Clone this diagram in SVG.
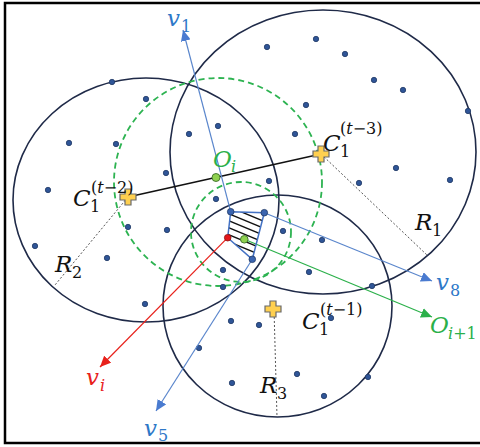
<svg xmlns="http://www.w3.org/2000/svg" width="480" height="447" viewBox="0 0 480 447">
<style>
.frame{fill:none;stroke:#000;stroke-width:2.5}
.circ{fill:none;stroke:#1F2A48;stroke-width:1.6}
.gdash{fill:none;stroke:#2DB351;stroke-width:1.8;stroke-dasharray:6 4}
.dot{fill:#2F5597;stroke:#1F3864;stroke-width:0.8}
.vdot{fill:#3A64B0;stroke:#1F3864;stroke-width:0.8}
.rad{stroke:#555;stroke-width:1;stroke-dasharray:2 2;fill:none}
.vec{stroke:#5A86CC;stroke-width:1.2;fill:none}
.cross{fill:#FFD04F;stroke:#6A6A6A;stroke-width:1.2}
.math{font-family:"DejaVu Serif","Liberation Serif",serif;font-style:italic}
.up{font-style:normal}
.big{font-size:23px}
.sm{font-size:16px}
.blue{fill:#2E78C8}
.red{fill:#E8211B}
.green{fill:#2BB04A}
.black{fill:#111}
</style>
<defs>
<marker id="ab" markerUnits="userSpaceOnUse" markerWidth="12" markerHeight="10" refX="11" refY="5" orient="auto"><path d="M0,0 L11,5 L0,10 z" fill="#4A7BD0"/></marker>
<marker id="ar" markerUnits="userSpaceOnUse" markerWidth="12" markerHeight="10" refX="11" refY="5" orient="auto"><path d="M0,0 L11,5 L0,10 z" fill="#E8211B"/></marker>
<marker id="ag" markerUnits="userSpaceOnUse" markerWidth="12" markerHeight="10" refX="11" refY="5" orient="auto"><path d="M0,0 L11,5 L0,10 z" fill="#2BB04A"/></marker>
<clipPath id="polyclip"><polygon points="230.7,211.7 264.3,212.7 252.3,259.3 227.7,237.7"/></clipPath>
</defs>

<rect class="frame" x="5" y="3" width="490" height="440"/>

<g id="region-R1"><ellipse class="circ" cx="323" cy="152" rx="153" ry="142"/></g>
<g id="region-R2"><ellipse class="circ" cx="146" cy="200" rx="133" ry="122"/></g>
<g id="region-R3"><ellipse class="circ" cx="277.5" cy="306" rx="114.5" ry="111"/></g>
<g id="region-Oi"><circle class="gdash" cx="218" cy="182" r="104"/></g>
<g id="region-Oi1"><circle class="gdash" cx="241" cy="232" r="50"/></g>

<g id="points">
<circle class="dot" cx="112" cy="82" r="2.7"/>
<circle class="dot" cx="146" cy="99" r="2.7"/>
<circle class="dot" cx="69" cy="143" r="2.7"/>
<circle class="dot" cx="116" cy="144" r="2.7"/>
<circle class="dot" cx="189" cy="134" r="2.7"/>
<circle class="dot" cx="218" cy="126" r="2.7"/>
<circle class="dot" cx="166" cy="173" r="2.7"/>
<circle class="dot" cx="48" cy="190" r="2.7"/>
<circle class="dot" cx="216" cy="199" r="2.7"/>
<circle class="dot" cx="267" cy="47" r="2.7"/>
<circle class="dot" cx="316" cy="39" r="2.7"/>
<circle class="dot" cx="345" cy="54" r="2.7"/>
<circle class="dot" cx="374" cy="80" r="2.7"/>
<circle class="dot" cx="403" cy="90" r="2.7"/>
<circle class="dot" cx="468" cy="111" r="2.7"/>
<circle class="dot" cx="306" cy="105" r="2.7"/>
<circle class="dot" cx="295" cy="134" r="2.7"/>
<circle class="dot" cx="396" cy="168" r="2.7"/>
<circle class="dot" cx="359" cy="183" r="2.7"/>
<circle class="dot" cx="450" cy="180" r="2.7"/>
<circle class="dot" cx="269" cy="181" r="2.7"/>
<circle class="dot" cx="128" cy="227" r="2.7"/>
<circle class="dot" cx="167" cy="230" r="2.7"/>
<circle class="dot" cx="35" cy="246" r="2.7"/>
<circle class="dot" cx="107" cy="258" r="2.7"/>
<circle class="dot" cx="223" cy="270" r="2.7"/>
<circle class="dot" cx="223" cy="287" r="2.7"/>
<circle class="dot" cx="145" cy="304" r="2.7"/>
<circle class="dot" cx="231" cy="321" r="2.7"/>
<circle class="dot" cx="199" cy="348" r="2.7"/>
<circle class="dot" cx="232" cy="383" r="2.7"/>
<circle class="dot" cx="283" cy="231" r="2.7"/>
<circle class="dot" cx="322" cy="240" r="2.7"/>
<circle class="dot" cx="309" cy="272" r="2.7"/>
<circle class="dot" cx="372" cy="286" r="2.7"/>
<circle class="dot" cx="259" cy="325" r="2.7"/>
<circle class="dot" cx="331" cy="318" r="2.7"/>
<circle class="dot" cx="297" cy="374" r="2.7"/>
<circle class="dot" cx="368" cy="377" r="2.7"/>
<circle class="dot" cx="324" cy="396" r="2.7"/>
</g>

<g id="connectors">
<line x1="128" y1="197" x2="321" y2="154" stroke="#111" stroke-width="1.5"/>
<line class="rad" x1="321" y1="154" x2="428" y2="256"/>
<line class="rad" x1="128" y1="197" x2="55" y2="285"/>
<line class="rad" x1="274" y1="309" x2="277" y2="417"/>
<line class="vec" x1="230.7" y1="211.7" x2="183" y2="30" marker-end="url(#ab)"/>
<line class="vec" x1="264.3" y1="212.7" x2="432" y2="281" marker-end="url(#ab)"/>
<line class="vec" x1="252.3" y1="259.3" x2="156" y2="411" marker-end="url(#ab)"/>
<line x1="227.7" y1="237.7" x2="100" y2="367" stroke="#E8211B" stroke-width="1.2" marker-end="url(#ar)"/>
<line x1="244.3" y1="239.3" x2="432" y2="317" stroke="#2BB04A" stroke-width="1.2" marker-end="url(#ag)"/>
</g>

<g id="polygon">
<g clip-path="url(#polyclip)" stroke="#111" stroke-width="1.4">
<line x1="220" y1="203" x2="280" y2="228"/>
<line x1="220" y1="210" x2="280" y2="235"/>
<line x1="220" y1="217" x2="280" y2="242"/>
<line x1="220" y1="224" x2="280" y2="249"/>
<line x1="220" y1="231" x2="280" y2="256"/>
<line x1="220" y1="238" x2="280" y2="263"/>
</g>
<polygon points="230.7,211.7 264.3,212.7 252.3,259.3 227.7,237.7" fill="none" stroke="#4472C4" stroke-width="1.5"/>
<circle class="vdot" cx="230.7" cy="211.7" r="3.3"/>
<circle class="vdot" cx="264.3" cy="212.7" r="3.3"/>
<circle class="vdot" cx="252.3" cy="259.3" r="3.3"/>
<circle cx="227.7" cy="237.7" r="3.3" fill="#E3161B" stroke="#8B1010" stroke-width="0.8"/>
<circle cx="244.3" cy="239.3" r="3.8" fill="#8FD14F" stroke="#3C6E2A" stroke-width="0.9"/>
<circle cx="216" cy="177.5" r="4" fill="#8FD14F" stroke="#3C6E2A" stroke-width="0.9"/>
</g>

<g id="centroid-t2"><path class="cross" d="M125,189 h6 v5 h5 v6 h-5 v5 h-6 v-5 h-5 v-6 h5 z"/></g>
<g id="centroid-t3"><path class="cross" d="M318,146 h6 v5 h5 v6 h-5 v5 h-6 v-5 h-5 v-6 h5 z"/></g>
<g id="centroid-t1"><path class="cross" d="M270,301 h6 v5 h5 v6 h-5 v5 h-6 v-5 h-5 v-6 h5 z"/></g>

<g id="labels">
<text class="math blue big" x="167" y="26">v</text><text class="math blue sm up" x="181" y="32">1</text>
<text class="math green big" x="213" y="167">O</text><text class="math green sm" x="231" y="172">i</text>
<text class="math black big" x="73" y="206">C</text><text class="math black sm up" x="90" y="212">1</text>
<text class="math black sm" x="91" y="193"><tspan class="up">(</tspan>t<tspan class="up">−2)</tspan></text>
<text class="math black big" x="323" y="151">C</text><text class="math black sm up" x="340" y="157">1</text>
<text class="math black sm" x="340" y="134"><tspan class="up">(</tspan>t<tspan class="up">−3)</tspan></text>
<text class="math black big" x="302" y="329">C</text><text class="math black sm up" x="319" y="335">1</text>
<text class="math black sm" x="320" y="315"><tspan class="up">(</tspan>t<tspan class="up">−1)</tspan></text>
<text class="math black big" x="415" y="230">R</text><text class="math black sm up" x="432" y="236">1</text>
<text class="math black big" x="55" y="272">R</text><text class="math black sm up" x="72" y="278">2</text>
<text class="math black big" x="260" y="393">R</text><text class="math black sm up" x="277" y="399">3</text>
<text class="math red big" x="86" y="385">v</text><text class="math red sm" x="100" y="391">i</text>
<text class="math blue big" x="144" y="436">v</text><text class="math blue sm up" x="158" y="441">5</text>
<text class="math blue big" x="436" y="290">v</text><text class="math blue sm up" x="450" y="296">8</text>
<text class="math green big" x="430" y="333">O</text><text class="math green sm" x="448" y="339">i<tspan class="up">+1</tspan></text>
</g>
</svg>
